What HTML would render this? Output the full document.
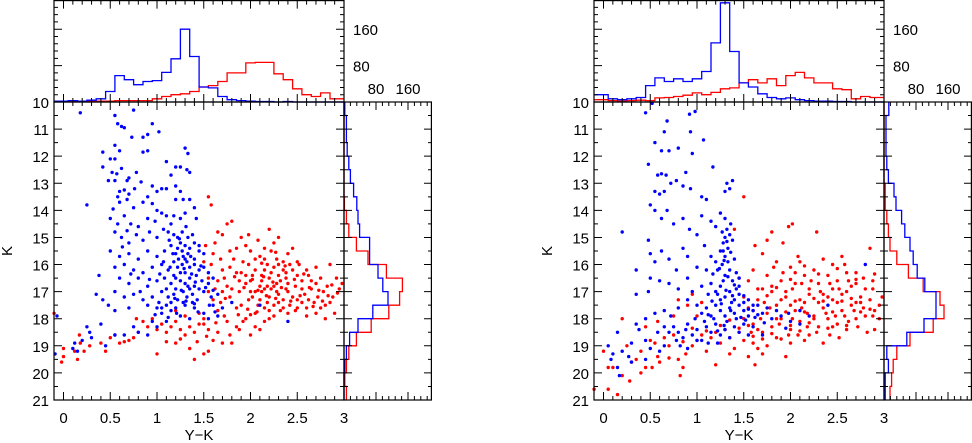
<!DOCTYPE html>
<html><head><meta charset="utf-8"><style>
html,body{margin:0;padding:0;background:#fff;}
svg{display:block;font-family:"Liberation Sans",sans-serif;}
</style></head><body>
<svg id="chart" width="972" height="443" viewBox="0 0 972 443" xmlns="http://www.w3.org/2000/svg"></svg>
<script>
// ---------- data ----------
const xTickLabels = ["0","0.5","1","1.5","2","2.5","3"];
const xTickValues = [0,0.5,1,1.5,2,2.5,3];
const yTickValues = [10,11,12,13,14,15,16,17,18,19,20,21];
const histCountTicks = [80,160];
const colorBins = [0,0.1,0.2,0.3,0.4,0.5,0.6,0.7,0.8,0.9,1.0,1.1,1.2,1.3,1.4,1.5,1.6,1.7,1.8,1.9,2.0,2.1,2.2,2.3,2.4,2.5,2.6,2.7,2.8,2.9,3.0];
const magBins = [10,10.5,11,11.5,12,12.5,13,13.5,14,14.5,15,15.5,16,16.5,17,17.5,18,18.5,19,19.5,20,20.5];

const leftTopBlue = [2,3,2,4,7,23,58,49,38,45,47,65,95,160,100,33,31,12,5,3,2,1,1,0,1,0,0,0,0,0,0];
const leftTopRed  = [1,2,2,2,2,2,3,3,3,3,7,12,16,18,23,33,36,45,64,64,86,87,87,62,49,29,16,12,20,7,7];
const leftSideBlue = [2,6,6,8,12,16,24,32,35,39,64,64,85,97,110,72,35,14,6,2,0,0];
const leftSideRed  = [0,0,0,0,0,0,0,1,6,12,31,60,106,146,139,112,68,31,12,6,2,6];
const rightTopBlue = [16,7,5,7,10,36,53,45,51,45,51,67,130,218,111,42,33,18,10,7,9,5,3,2,2,1,1,0,0,0,0];
const rightTopRed  = [5,3,2,3,4,3,9,10,12,15,20,16,21,29,31,42,49,42,51,36,58,65,53,42,42,29,27,7,12,10,10];
const rightSideBlue = [12,5,5,5,7,11,25,30,44,52,65,73,83,102,130,130,100,57,7,11,3,3];
const rightSideRed  = [0,0,0,0,0,0,3,3,7,11,15,32,61,98,140,150,123,65,32,23,19,15];

const leftBlue = [[0.18,10.4],[0.75,10.3],[0.55,10.5],[0.58,10.8],[0.62,10.9],[0.65,10.95],[0.95,10.8],[1.02,11.1],[0.73,11.3],[0.85,11.3],[0.9,11.2],[0.55,11.6],[0.6,11.8],[0.5,12.1],[0.55,12.1],[0.85,11.85],[0.9,11.8],[1.1,12.2],[1.3,11.7],[1.33,11.9],[0.42,11.85],[0.42,12.4],[0.52,12.6],[0.57,12.65],[0.62,12.45],[0.7,12.8],[0.78,12.6],[0.55,12.9],[0.68,12.9],[0.83,12.95],[1.2,12.4],[1.25,12.4],[1.32,12.5],[1.35,12.6],[1.15,12.7],[0.48,12.9],[0.95,13.1],[1.0,13.3],[1.05,13.2],[1.1,13.2],[1.2,13.1],[1.25,13.3],[0.6,13.3],[0.65,13.25],[0.7,13.4],[0.9,13.5],[0.25,13.8],[0.58,13.5],[0.6,13.7],[0.68,13.6],[0.75,13.9],[0.85,13.7],[0.95,13.75],[1.0,14.0],[1.05,14.1],[1.1,14.2],[1.2,13.6],[1.28,13.6],[1.35,13.6],[1.4,13.9],[1.42,14.3],[1.3,14.1],[1.25,14.3],[1.15,14.5],[0.5,14.3],[0.58,14.5],[0.65,14.2],[0.72,14.5],[0.8,14.6],[0.9,14.3],[0.98,14.4],[0.55,14.8],[0.62,15.0],[0.7,15.2],[0.78,14.9],[0.85,15.1],[0.92,14.8],[1.0,15.0],[1.07,14.7],[1.12,14.8],[1.18,14.9],[1.22,15.0],[1.27,14.8],[1.33,15.0],[1.38,14.9],[1.4,15.2],[1.3,15.3],[1.25,15.2],[1.35,15.4],[1.45,15.3],[1.15,15.3],[0.5,15.5],[0.6,15.7],[0.7,15.6],[0.8,15.8],[0.9,15.5],[1.0,15.7],[1.08,15.5],[1.2,15.6],[1.28,15.7],[1.33,15.6],[1.4,15.8],[1.45,15.5],[1.5,15.6],[0.55,16.1],[0.65,16.0],[0.75,16.2],[0.85,16.3],[0.95,16.1],[1.05,16.0],[1.12,16.2],[1.18,15.9],[1.22,16.1],[1.27,16.0],[1.3,16.3],[1.35,16.1],[1.4,16.0],[1.45,16.2],[1.5,16.1],[1.55,16.3],[0.38,16.4],[0.6,16.5],[0.7,16.7],[0.8,16.5],[0.9,16.8],[1.0,16.6],[1.08,16.5],[1.15,16.7],[1.2,16.5],[1.25,16.6],[1.3,16.7],[1.35,16.5],[1.4,16.8],[1.48,16.6],[1.55,16.7],[1.6,16.5],[0.55,17.0],[0.65,17.2],[0.75,17.1],[0.85,17.3],[0.95,17.2],[1.05,17.0],[1.12,17.2],[1.18,17.1],[1.22,17.3],[1.28,17.0],[1.32,17.2],[1.38,17.1],[1.43,17.3],[1.5,17.0],[1.58,17.2],[1.65,17.1],[0.35,17.1],[0.42,17.3],[0.48,17.5],[0.55,17.7],[0.7,17.6],[0.9,17.5],[1.0,17.6],[1.05,17.8],[1.1,17.5],[1.15,17.7],[1.2,17.6],[1.3,17.5],[1.4,17.6],[1.5,17.8],[1.6,17.5],[1.7,17.6],[1.8,17.4],[1.25,17.9],[1.35,18.0],[1.55,18.0],[1.65,17.9],[2.4,18.1],[2.1,17.5],[0.4,18.2],[0.25,18.3],[0.28,18.5],[0.2,18.8],[0.12,18.9],[0.1,19.1],[0.15,19.2],[0.3,18.7],[0.45,19.0],[0.55,18.6],[0.65,18.6],[0.8,18.5],[0.9,18.6],[0.75,18.3],[-0.09,19.3],[-0.07,17.9],[1.0,18.3],[1.1,18.1],[0.95,18.1],[1.25,16.3],[1.3,15.8],[1.2,16.9],[1.35,16.9],[1.28,17.4],[1.22,15.4],[1.32,15.9],[1.18,16.4],[1.42,16.4],[1.1,16.9],[1.38,17.4],[1.27,15.5],[1.02,17.4],[1.45,16.9],[1.15,17.4],
[1.13,15.1],[1.17,15.6],[1.23,15.8],[1.29,16.15],[1.37,16.35],[1.41,16.65],[1.33,16.8],[1.26,16.95],[1.19,17.25],[1.31,17.35],[1.4,17.45],[1.21,17.8],[1.12,17.95],[1.05,17.6],[0.98,17.85],[1.44,17.75],[1.36,15.7],[1.24,15.05],[1.31,14.6],[1.18,14.2],[1.07,15.9],[1.03,16.35],[0.92,16.55],[0.82,17.0],[0.72,16.35],[0.63,15.35],[0.68,14.75],[0.53,13.95],[0.76,13.2],[1.14,16.1],[1.47,16.05],[1.52,16.85],[1.56,17.5],[1.62,17.75],[1.6,16.95]];

const leftRed = [[-0.1,17.8],[0.0,19.1],[-0.02,19.6],[0.0,19.4],[0.12,19.2],[0.15,19.5],[0.17,18.6],[0.18,18.9],[0.22,19.2],[0.28,19.0],[0.4,18.9],[0.45,19.2],[0.5,18.7],[0.55,18.6],[0.6,18.9],[0.65,18.85],[0.7,18.8],[0.75,18.7],[0.8,18.5],[0.85,18.1],[0.9,18.3],[0.95,18.0],[1.0,18.4],[1.05,18.2],[1.1,18.5],[1.15,18.3],[1.2,18.1],[1.25,18.4],[1.3,18.6],[1.35,18.3],[1.4,18.5],[1.45,18.2],[1.5,18.0],[1.55,18.4],[1.0,19.3],[1.2,18.9],[1.35,19.1],[1.4,19.5],[1.5,19.3],[1.55,19.2],[1.6,18.8],[1.65,18.5],[1.7,18.9],[1.78,18.6],[1.8,18.9],[1.2,17.7],[1.3,17.9],[1.45,17.8],[1.5,18.2],[0.78,18.0],[1.58,16.0],[1.6,15.6],[1.62,15.2],[1.65,16.6],[1.7,16.2],[1.68,17.4],[1.72,17.9],[1.75,16.8],[1.78,15.5],[1.8,14.4],[1.75,14.5],[1.55,13.5],[1.58,13.8],[1.65,14.8],[1.7,14.9],[1.82,15.8],[1.85,16.3],[1.88,17.0],[1.9,17.5],[1.92,18.1],[1.95,15.3],[1.98,16.0],[2.0,16.6],[2.02,17.2],[2.05,17.8],[2.08,15.1],[2.1,15.7],[2.12,16.4],[2.15,16.9],[2.18,17.4],[2.2,18.0],[2.22,15.5],[2.25,16.1],[2.28,16.7],[2.3,17.1],[2.32,17.7],[2.35,15.9],[2.38,16.5],[2.4,17.0],[2.42,17.5],[2.45,16.2],[2.48,16.8],[2.5,17.3],[2.52,16.0],[2.55,16.6],[2.58,17.1],[2.6,17.6],[2.62,16.4],[2.65,16.9],[2.68,17.4],[2.7,16.7],[2.72,17.2],[2.75,16.5],[2.78,17.0],[2.8,17.5],[2.82,16.8],[2.85,16.0],[2.88,17.2],[2.95,16.9],[2.98,16.7],[2.9,17.8],[2.3,15.0],[2.2,14.7],[2.25,15.2],[2.0,15.5],[1.92,15.9],[1.85,15.4],[2.05,16.2],[2.15,16.2],[2.1,16.8],[2.2,16.5],[2.18,16.0],[2.12,17.0],[2.25,16.8],[2.3,16.4],[2.35,17.3],[2.0,17.0],[1.95,16.7],[1.9,16.3],[1.8,16.9],[1.85,17.6],[1.78,17.2],[1.7,17.0],[1.65,17.7],[1.6,17.3],[1.55,17.0],[1.75,18.1],[1.85,18.3],[1.95,18.0],[2.05,18.3],[2.15,18.1],[2.25,17.9],[2.4,17.8],[2.5,17.6],[2.6,17.9],[2.7,17.8],[2.8,18.0],[2.1,18.4],[2.0,18.6],[1.88,18.4],[2.3,17.4],[2.45,17.2],[2.55,16.9],[2.4,16.7],[2.5,16.4],[2.35,16.2],[2.2,17.2],[2.08,17.5],[1.98,17.3],[2.28,15.8],[2.4,15.6],[2.5,15.9],[2.6,16.2],[2.7,16.1],[2.15,15.8],[2.05,15.8],[1.95,16.4],[2.22,16.3],[2.32,16.6],[2.42,16.0],[2.12,16.6],[2.18,16.8],[2.28,17.0],[2.38,16.9],[2.1,17.3],[1.88,16.6],[1.72,16.5],[1.62,16.9],[1.55,16.5],[1.5,15.9],[1.52,15.3],[1.68,15.8],[1.78,16.1],[2.45,15.4],[2.15,15.4],[1.98,14.9],[1.9,15.0],[2.62,17.3],[2.75,17.6],[2.85,17.4],[2.92,16.5],[2.65,16.6],[2.55,17.4],[2.48,17.7],[2.35,17.6],[2.25,17.5],[2.15,17.6],[2.05,17.0],[2.02,16.4],[2.22,16.9],[2.3,16.0],[2.38,16.3],
[2.02,16.55],[2.08,16.95],[2.14,16.45],[2.24,16.65],[2.17,17.15],[2.27,17.25],[2.07,17.75],[1.97,17.65],[1.87,17.85],[2.33,16.85],[2.43,17.35],[2.53,17.15],[2.63,16.85],[2.73,16.95],[2.83,17.15],[2.57,16.35],[2.47,16.55],[2.37,16.05],[2.27,15.55],[2.12,15.95],[1.93,16.85],[1.83,16.45],[1.73,17.25],[1.63,18.15],[1.53,18.65],[1.43,18.85],[1.25,18.75],[1.1,18.85],[2.67,17.55],[2.77,17.35],[2.87,16.75],[2.93,17.05],[2.0,17.85],[2.2,17.7]];

const rightBlue = [[0.45,10.4],[0.52,10.05],[0.92,10.45],[0.98,10.35],[0.55,11.5],[0.65,11.1],[0.68,10.7],[0.93,11.1],[1.07,11.4],[0.48,12.3],[0.58,12.7],[0.62,12.65],[0.67,12.7],[0.55,13.3],[0.6,13.4],[0.65,13.3],[0.72,13.0],[0.78,12.9],[0.85,13.1],[0.93,13.2],[0.88,12.6],[0.62,11.8],[0.7,11.8],[0.8,11.7],[0.95,11.9],[1.05,13.5],[1.1,13.6],[1.3,13.3],[1.35,13.2],[1.38,12.9],[1.32,13.0],[1.17,12.4],[0.5,13.8],[0.55,14.0],[0.62,14.3],[0.68,14.0],[0.75,14.5],[0.85,14.3],[0.92,14.7],[1.0,14.9],[1.05,14.2],[1.15,14.4],[1.2,14.6],[1.25,14.1],[1.3,14.3],[1.32,14.7],[1.35,14.9],[1.3,15.0],[1.28,15.2],[1.33,15.4],[1.38,15.1],[1.25,15.5],[0.2,14.8],[0.48,15.1],[0.5,15.6],[0.55,15.9],[0.62,15.5],[0.7,15.8],[0.78,16.2],[0.85,15.4],[0.9,15.7],[1.0,16.1],[1.08,15.3],[1.15,15.7],[1.2,15.9],[1.27,16.0],[1.3,15.7],[1.35,16.2],[1.4,15.8],[1.42,16.3],[1.45,16.5],[1.38,16.6],[1.3,16.4],[1.22,16.2],[1.15,16.7],[0.35,16.2],[0.5,16.5],[0.6,16.6],[0.7,16.7],[0.8,16.9],[0.9,16.5],[0.95,17.0],[1.05,16.8],[1.12,17.1],[1.2,17.0],[1.25,16.8],[1.3,17.2],[1.35,17.0],[1.4,17.3],[1.45,17.1],[1.5,17.4],[1.55,17.3],[1.6,17.5],[0.35,17.1],[0.48,17.0],[0.55,17.8],[0.65,17.7],[0.72,17.9],[0.8,17.6],[0.9,17.3],[1.0,17.5],[1.05,17.8],[1.1,17.6],[1.15,17.9],[1.2,17.5],[1.25,17.7],[1.3,17.9],[1.35,17.6],[1.4,17.8],[1.45,17.5],[1.5,17.7],[1.55,17.9],[1.6,17.7],[1.65,17.5],[1.7,17.8],[1.75,17.6],[1.8,18.0],[1.9,17.9],[2.0,18.1],[2.1,18.2],[2.2,17.9],[2.4,17.5],[2.8,16.0],[1.98,17.8],[0.75,18.3],[0.8,18.5],[0.85,18.7],[0.9,18.2],[0.95,18.6],[1.0,18.4],[1.05,18.8],[1.1,18.3],[1.15,18.5],[1.2,18.2],[1.25,18.6],[1.3,18.4],[1.35,18.7],[1.4,18.3],[1.45,18.5],[1.5,18.2],[1.55,18.6],[1.6,18.3],[1.7,18.6],[0.82,19.0],[0.9,19.1],[0.65,19.0],[0.6,19.2],[0.5,19.1],[0.45,18.8],[0.38,18.4],[0.3,18.9],[0.27,19.4],[0.3,19.6],[0.45,19.5],[0.2,19.2],[0.15,18.5],[0.1,19.3],[0.05,19.0],[0.08,19.5],[0.15,19.8],[0.17,20.1],[0.35,18.2],[0.45,18.0],[0.58,18.5],[0.65,18.3],[1.28,16.6],[1.33,15.9],[1.25,17.3],[1.37,17.4],[1.32,18.1],[1.22,17.1],[1.42,16.9],[1.18,18.0],[1.28,15.5],[1.36,14.5],
[1.27,14.8],[1.32,15.15],[1.36,15.55],[1.29,15.85],[1.24,16.15],[1.33,16.45],[1.4,16.75],[1.31,16.95],[1.26,17.45],[1.36,17.7],[1.42,18.0],[1.29,18.25],[1.22,18.45],[1.16,17.35],[1.12,17.85],[1.47,17.95],[1.52,18.05],[1.62,17.95],[1.72,18.15],[1.85,17.7],[1.08,18.1],[0.98,18.0],[0.88,18.4],[1.12,18.9],[1.22,18.9],[1.0,18.8],[0.78,18.8],[0.7,18.5],[1.17,16.35],[1.1,16.2],[1.38,17.15],[1.45,16.8],[1.5,17.15],[1.55,17.65],[1.65,17.85],[1.95,18.35],[2.1,17.7]];

const rightRed = [[-0.1,20.6],[0.05,20.6],[0.15,20.8],[0.0,19.2],[0.05,19.8],[0.1,19.8],[0.2,18.0],[0.2,20.1],[0.25,19.0],[0.28,20.3],[0.3,19.6],[0.35,19.5],[0.4,19.2],[0.45,19.8],[0.5,18.8],[0.52,19.8],[0.58,19.4],[0.6,19.6],[0.55,18.9],[0.65,18.7],[0.7,19.0],[0.75,18.6],[0.8,19.5],[0.85,19.8],[0.82,20.1],[0.88,19.3],[0.95,19.0],[1.0,18.8],[1.05,18.6],[1.1,19.2],[1.15,18.7],[1.2,18.5],[1.25,18.9],[1.3,18.4],[1.35,18.7],[1.4,19.1],[1.45,18.5],[1.5,18.8],[1.55,19.4],[1.6,18.9],[1.65,19.1],[1.2,19.7],[1.35,19.3],[0.45,18.3],[0.58,18.1],[0.75,17.9],[0.9,17.5],[0.95,17.1],[0.8,17.3],[1.0,17.9],[1.05,17.4],[1.5,18.0],[1.55,17.6],[1.6,18.2],[1.65,17.3],[1.7,18.5],[1.75,17.8],[1.8,18.3],[1.85,17.5],[1.9,18.0],[1.95,17.2],[2.0,18.4],[2.05,17.7],[2.1,18.1],[2.15,17.4],[2.2,18.6],[2.25,17.9],[2.3,18.3],[2.35,17.6],[2.4,18.0],[2.45,17.3],[2.5,18.2],[2.55,17.7],[2.6,18.4],[2.65,17.5],[2.7,18.0],[2.75,17.4],[2.8,17.9],[2.85,17.3],[2.9,17.7],[2.95,17.5],[2.9,18.4],[2.95,18.0],[2.88,16.9],[2.98,17.2],[2.85,15.4],[1.55,16.6],[1.6,16.2],[1.65,16.9],[1.7,15.6],[1.75,16.4],[1.8,16.8],[1.85,15.9],[1.9,16.6],[1.95,17.0],[2.0,16.1],[2.05,16.7],[2.1,15.9],[2.15,16.4],[2.2,16.9],[2.25,16.2],[2.3,16.7],[2.35,17.1],[2.4,16.4],[2.45,16.9],[2.5,16.6],[2.55,17.1],[2.6,16.3],[2.65,16.8],[2.7,16.7],[2.75,17.2],[2.8,16.9],[2.7,17.4],[2.6,17.0],[2.5,17.4],[2.4,17.2],[2.3,17.4],[2.2,17.1],[2.1,17.3],[2.0,17.5],[1.9,17.3],[1.8,17.0],[1.7,16.9],[1.6,17.7],[1.5,17.2],[1.45,16.5],[1.4,14.7],[1.5,13.5],[1.62,15.3],[1.75,15.1],[1.8,14.8],[1.92,15.2],[1.98,14.6],[2.02,14.5],[2.28,14.8],[2.55,15.7],[2.45,16.0],[2.35,15.8],[2.08,15.7],[2.05,16.3],[2.12,16.7],[2.18,17.8],[2.28,18.5],[2.42,18.6],[2.52,18.7],[2.62,18.1],[2.72,18.3],[2.82,18.5],[2.35,18.9],[2.15,18.8],[2.0,18.9],[1.85,18.7],[1.75,19.0],[1.7,19.3],[1.95,19.4],[1.62,19.7],[2.08,18.6],[2.25,18.0],[2.38,17.8],[2.48,17.9],[2.58,17.9],[2.68,17.7],[2.78,17.6],[2.88,17.9],[2.12,17.6],[2.02,18.0],[1.88,18.2],[1.78,17.6],[1.68,18.0],[1.58,18.5],[2.32,17.0],[2.42,16.7],[2.52,16.9],[2.62,16.6],[2.22,16.6],[2.02,16.9],[1.92,16.3],[1.82,16.1],[2.58,16.0],[2.7,16.3],[2.78,16.5],[2.88,16.6],[2.45,18.3],[2.18,18.3],[1.98,18.6],[1.85,18.0],[1.72,17.4],[1.65,18.4],
[1.95,17.75],[2.05,17.35],[2.15,17.75],[2.25,17.25],[2.35,17.35],[2.45,17.75],[2.55,17.35],[2.65,17.25],[2.75,17.75],[2.85,17.65],[2.6,18.25],[2.4,18.35],[2.2,18.15],[2.0,18.25],[1.8,18.55],[1.6,18.65],[1.7,18.75],[1.9,18.75],[2.1,18.45],[2.3,16.35],[2.5,16.15],[2.7,16.55],[2.9,16.35],[2.15,16.05],[2.0,16.55],[1.85,16.85],[1.75,17.15],[1.55,18.25],[1.45,18.35],[1.35,18.05],[1.25,18.25],[1.1,18.45],[0.95,18.35],[0.85,18.85],[0.7,19.45],[0.4,20.0]];

// ---------- rendering ----------
const NS = "http://www.w3.org/2000/svg";
const svg = document.getElementById("chart");
function mk(tag, attrs, parent){
  const e = document.createElementNS(NS, tag);
  for (const k in attrs) e.setAttribute(k, attrs[k]);
  (parent||svg).appendChild(e);
  return e;
}
const BLUE = "#0000ff", RED = "#ff0000";

function drawPanel(off, name, topBlue, topRed, sideBlue, sideRed, blue, red){
  const g = mk("g", {});
  
  
  const L = 54+off, R = 344+off, T = 102, B = 400, HR = 432+off;
  const X = v => 63.5 + off + v*93.5;
  const Y = k => 102 + (k-10)*27.09;
  const HC = c => 102 - c*0.455;
  const SC = c => 344 + off + c*0.4;

  const pts = mk("g", {}, g);
  
  
  red.forEach(p => {
    const c = mk("circle", {cx:X(p[0]).toFixed(1), cy:Y(p[1]).toFixed(1), r:1.7, fill:RED}, pts);
    
    
  });
  blue.forEach(p => {
    const c = mk("circle", {cx:X(p[0]).toFixed(1), cy:Y(p[1]).toFixed(1), r:1.7, fill:BLUE}, pts);
    
    
  });

  function topHist(counts, color, nm){
    let d = "";
    counts.forEach((c,i) => {
      const x0 = X(colorBins[i]-0.05), x1 = Math.min(X(colorBins[i]+0.05), R);
      d += (i===0 ? "M"+L+","+HC(c)+" L" : " L") + x0.toFixed(1)+","+HC(c).toFixed(1)+" L"+x1.toFixed(1)+","+HC(c).toFixed(1);
    });
    const p = mk("path", {d:d, fill:"none", stroke:color, "stroke-width":1.3}, g);
    
    
  }
  topHist(topRed, RED, 'top-histogram-red');
  topHist(topBlue, BLUE, 'top-histogram-blue');

  function sideHist(counts, color, nm){
    let d = "";
    counts.forEach((c,i) => {
      const y0 = Y(magBins[i]), y1 = Y(magBins[i]+0.5);
      d += (i===0 ? "M" : " L") + SC(c).toFixed(1)+","+y0.toFixed(1)+" L"+SC(c).toFixed(1)+","+y1.toFixed(1);
    });
    const p = mk("path", {d:d, fill:"none", stroke:color, "stroke-width":1.3}, g);
    
    
  }
  sideHist(sideRed, RED, 'side-histogram-red');
  sideHist(sideBlue, BLUE, 'side-histogram-blue');

  const f1 = mk("rect", {x:L, y:T, width:R-L, height:B-T, fill:"none", stroke:"#000", "stroke-width":1.2}, g);
  
  
  const f2 = mk("rect", {x:L, y:0.6, width:R-L, height:T-0.6, fill:"none", stroke:"#000", "stroke-width":1.2}, g);
  
  
  const f3 = mk("rect", {x:R, y:T, width:HR-R-0.6, height:B-T, fill:"none", stroke:"#000", "stroke-width":1.2}, g);
  
  

  let td = "";
  for (let i=0;i<=30;i++){
    const v = i*0.1, x = X(v), len = (i%5===0)?8:4;
    td += "M"+x+","+B+" v-"+len+" M"+x+","+T+" v"+len+" M"+x+","+T+" v-"+len+" M"+x+",0.6 v"+len+" ";
  }
  for (let i=0;i<=22;i++){
    const k = 10+i*0.5, y = Y(k), len = (i%2===0)?8:4;
    td += "M"+L+","+y+" h"+len+" M"+R+","+y+" h-"+len+" M"+R+","+y+" h"+len+" M"+HR+","+y+" h-"+len+" ";
  }
  for (let c=16;c<=224;c+=16){
    const y = HC(c), len = (c%80===0)?8:4;
    td += "M"+L+","+y+" h"+len+" M"+R+","+y+" h-"+len+" ";
    const x = SC(c);
    if (x < HR) td += "M"+x+","+T+" v"+len+" M"+x+","+B+" v-"+len+" ";
  }
  const tk = mk("path", {d:td, stroke:"#000", "stroke-width":1, fill:"none"}, g);
  
  

  xTickValues.forEach((v,i) => {
    const t = mk("text", {x:X(v), y:423, "font-size":15, "text-anchor":"middle"}, g);
    t.textContent = xTickLabels[i];
    
    
  });
  yTickValues.forEach(k => {
    const t = mk("text", {x:L-5, y:Y(k)+6, "font-size":15, "text-anchor":"end"}, g);
    t.textContent = String(k);
    
    
  });
  histCountTicks.forEach(c => {
    const t = mk("text", {x:R+9, y:HC(c)+6, "font-size":15}, g);
    t.textContent = String(c);
    
    
    const s = mk("text", {x:SC(c), y:94, "font-size":15, "text-anchor":"middle"}, g);
    s.textContent = String(c);
    
    
  });
  const xt = mk("text", {x:X(1.45), y:440, "font-size":15, "text-anchor":"middle"}, g);
  xt.textContent = "Y\u2212K";
  
  
  const yx = L-42, yy = 251;
  const yt = mk("text", {x:yx, y:yy, "font-size":15, "text-anchor":"middle", transform:"rotate(-90 "+yx+" "+yy+")"}, g);
  yt.textContent = "K";
  
  
}

drawPanel(0, 'left-panel', leftTopBlue, leftTopRed, leftSideBlue, leftSideRed, leftBlue, leftRed);
drawPanel(540, 'right-panel', rightTopBlue, rightTopRed, rightSideBlue, rightSideRed, rightBlue, rightRed);
</script>
</body></html>
